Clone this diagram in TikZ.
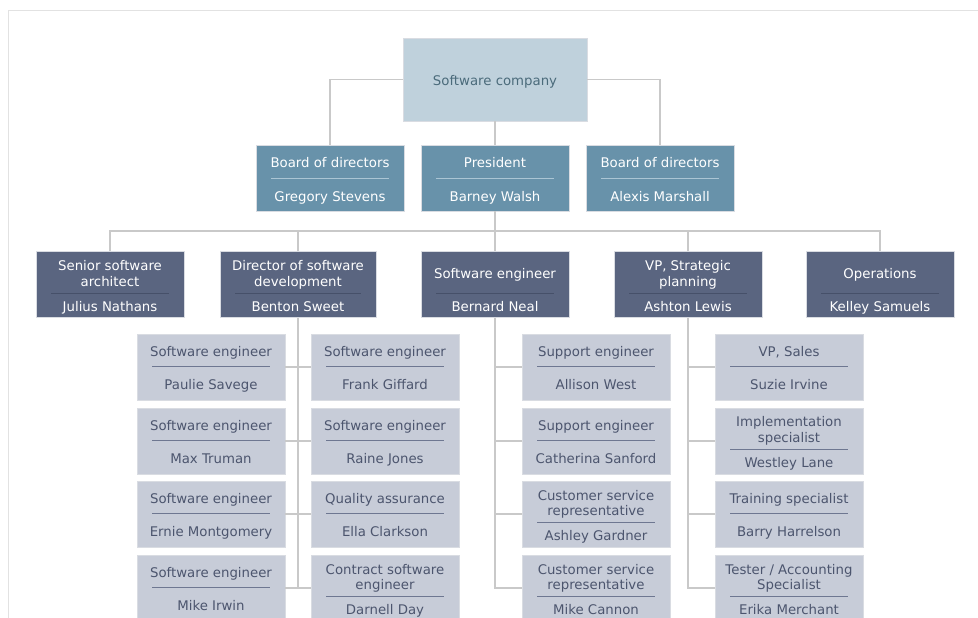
\documentclass[tikz,border=0pt]{standalone}
\usepackage{fontspec}
\setmainfont{DejaVu Sans}

\definecolor{topfill}{HTML}{BFD1DC}
\definecolor{toptext}{HTML}{4B6B7B}
\definecolor{boardfill}{HTML}{6892AA}
\definecolor{boardrule}{HTML}{ABC5D4}
\definecolor{leadfill}{HTML}{5A6580}
\definecolor{leadrule}{HTML}{465069}
\definecolor{stafffill}{HTML}{C7CCD8}
\definecolor{stafftext}{HTML}{4C556E}
\definecolor{staffrule}{HTML}{6E7791}
\definecolor{wirecol}{HTML}{C9C9C9}
\definecolor{framecol}{HTML}{E2E2E2}
\definecolor{boxline}{HTML}{D9DCE2}
\colorlet{rulecol}{black}
\def\cardw{118pt}

\newcommand{\rolecard}[3][32]{%
  \vbox to 66pt{\offinterlineskip
    \vskip 6.5pt
    \hbox{\parbox[c][\dimexpr #1pt-6.5pt\relax][c]{\dimexpr\cardw+30pt\relax}{\centering\strut #2\strut}}
    \hbox to \dimexpr\cardw+30pt\relax{\hss\color{rulecol}\rule{\cardw}{1pt}\hss}
    \hbox{\parbox[c][\dimexpr (66pt-#1pt)*11/10+1.8pt\relax][c]{\dimexpr\cardw+30pt\relax}{\centering\strut #3\strut}}
    \vss}}

\tikzset{
  box/.style={rectangle, inner sep=0pt, minimum width=148pt, minimum height=66pt,
    draw=boxline, line width=0.8pt, font=\fontsize{13.3}{15.6}\selectfont},
  topbox/.style={box, fill=topfill, text=toptext, minimum width=184pt, minimum height=83pt},
  board/.style={box, fill=boardfill, text=white, execute at begin node={\colorlet{rulecol}{boardrule}}},
  lead/.style={box, fill=leadfill, text=white, execute at begin node={\colorlet{rulecol}{leadrule}}},
  widelead/.style={box, fill=leadfill, text=white, minimum width=156pt,
    execute at begin node={\colorlet{rulecol}{leadrule}\def\cardw{126pt}}},
  staff/.style={box, fill=stafffill, text=stafftext, execute at begin node={\colorlet{rulecol}{staffrule}}},
  wire/.style={draw=wirecol, line width=1.2pt}
}

\begin{document}
\begin{tikzpicture}[x=1pt,y=-1pt]
\useasboundingbox (0,0) rectangle (978,618);
\draw [framecol, line width=1pt] (8,618) -- (8,11) -- (978,11);

\node[topbox] (root) at (495,79.5) {\raisebox{-2.5pt}[\height][\depth]{Software company}};

\node[board] (A_left) at (330,178) {\rolecard[33]{Board of directors}{Gregory Stevens}};
\draw [wire] (root.west) -| (A_left.north);

\node[board] (A_mid) at (495,178) {\rolecard[33]{President}{Barney Walsh}};
\draw [wire] (root.south) -- (A_mid.north);

\node[board] (A_right) at (660,178) {\rolecard[33]{Board of directors}{Alexis Marshall}};
\draw [wire] (root.east) -| (A_right.north);

\coordinate (bus) at (495,231);

\node[lead] (B_farleft) at (110,284.5) {\rolecard[41]{Senior software\\architect}{Julius Nathans}};
\node[widelead] (B_left) at (298,284.5) {\rolecard[41]{Director of software\\development}{Benton Sweet}};
\node[lead] (B_mid) at (495,284.5) {\rolecard[41]{Software engineer}{Bernard Neal}};
\node[lead] (B_right) at (688,284.5) {\rolecard[41]{VP, Strategic\\planning}{Ashton Lewis}};
\node[lead] (B_farright) at (880,284.5) {\rolecard[41]{Operations}{Kelley Samuels}};

\draw [wire] (A_mid.south) -- (B_mid.north);
\draw [wire] (B_farleft.north) |- (bus) -| (B_farright.north);
\draw [wire] (B_left.north) -- (B_left.north |- bus);
\draw [wire] (B_right.north) -- (B_right.north |- bus);

\node[staff] (C1_left) at (211,367) {\rolecard{Software engineer}{Paulie Savege}};
\node[staff] (C1_inner) at (385,367) {\rolecard{Software engineer}{Frank Giffard}};
\node[staff] (C1_mid) at (596,367) {\rolecard{Support engineer}{Allison West}};
\node[staff] (C1_right) at (789,367) {\rolecard{VP, Sales}{Suzie Irvine}};

\node[staff] (C2_left) at (211,441) {\rolecard{Software engineer}{Max Truman}};
\node[staff] (C2_inner) at (385,441) {\rolecard{Software engineer}{Raine Jones}};
\node[staff] (C2_mid) at (596,441) {\rolecard{Support engineer}{Catherina Sanford}};
\node[staff] (C2_right) at (789,441) {\rolecard[40.5]{Implementation\\specialist}{Westley Lane}};

\node[staff] (C3_left) at (211,514) {\rolecard{Software engineer}{Ernie Montgomery}};
\node[staff] (C3_inner) at (385,514) {\rolecard{Quality assurance}{Ella Clarkson}};
\node[staff] (C3_mid) at (596,514) {\rolecard[41]{Customer service\\representative}{Ashley Gardner}};
\node[staff] (C3_right) at (789,514) {\rolecard{Training specialist}{Barry Harrelson}};

\node[staff] (C4_left) at (211,588) {\rolecard{Software engineer}{Mike Irwin}};
\node[staff] (C4_inner) at (385,588) {\rolecard[41]{Contract software\\engineer}{Darnell Day}};
\node[staff] (C4_mid) at (596,588) {\rolecard[41]{Customer service\\representative}{Mike Cannon}};
\node[staff] (C4_right) at (789,588) {\rolecard[41]{Tester / Accounting\\Specialist}{Erika Merchant}};

\draw [wire] (B_left.south) -- (B_left.south |- C4_left.east);
\draw [wire] (C1_left.east) -- (C1_inner.west);
\draw [wire] (C2_left.east) -- (C2_inner.west);
\draw [wire] (C3_left.east) -- (C3_inner.west);
\draw [wire] (C4_left.east) -- (C4_inner.west);

\draw [wire] (B_mid.south) |- (C4_mid.west);
\draw [wire] (B_mid.south |- C1_mid.west) -- (C1_mid.west);
\draw [wire] (B_mid.south |- C2_mid.west) -- (C2_mid.west);
\draw [wire] (B_mid.south |- C3_mid.west) -- (C3_mid.west);

\draw [wire] (B_right.south) |- (C4_right.west);
\draw [wire] (B_right.south |- C1_right.west) -- (C1_right.west);
\draw [wire] (B_right.south |- C2_right.west) -- (C2_right.west);
\draw [wire] (B_right.south |- C3_right.west) -- (C3_right.west);

	\end{tikzpicture}
\end{document}
